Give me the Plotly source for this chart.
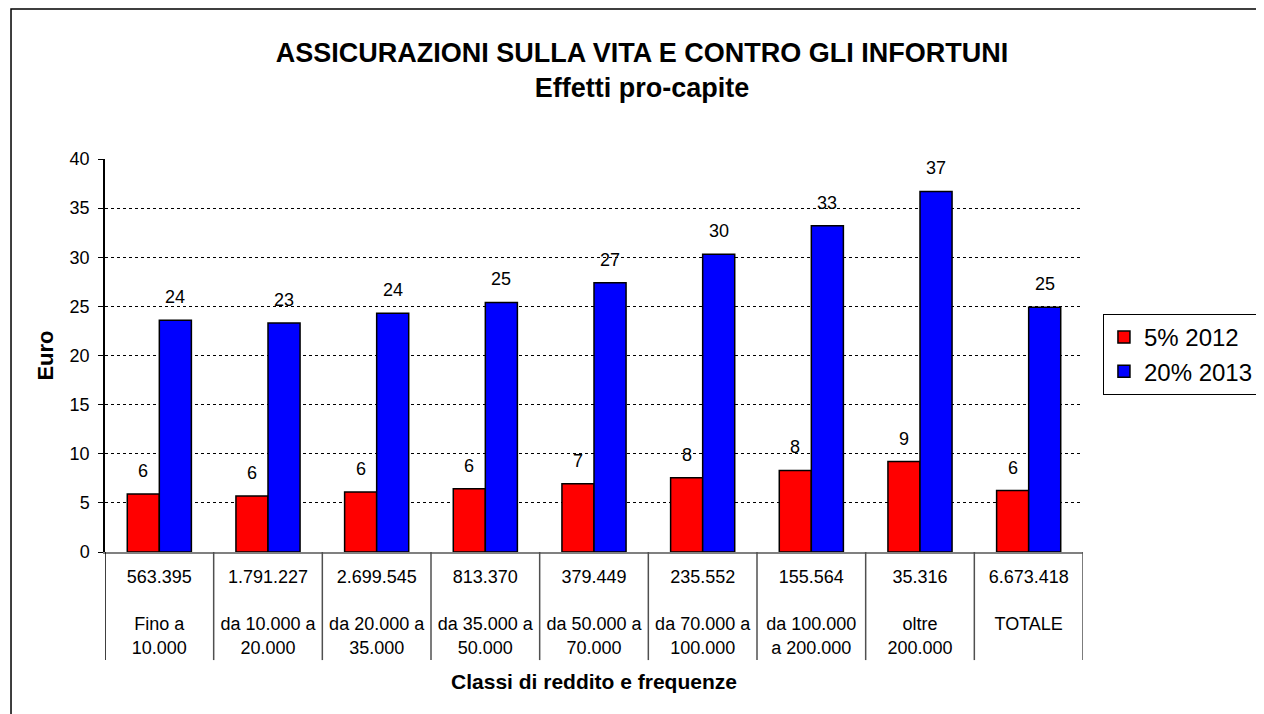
import plotly.graph_objects as go

# ---- data ----
classi = ["Fino a<br>10.000", "da 10.000 a<br>20.000", "da 20.000 a<br>35.000",
          "da 35.000 a<br>50.000", "da 50.000 a<br>70.000", "da 70.000 a<br>100.000",
          "da 100.000<br>a 200.000", "oltre<br>200.000", "TOTALE<br> "]
frequenze = ["563.395", "1.791.227", "2.699.545", "813.370", "379.449",
             "235.552", "155.564", "35.316", "6.673.418"]
val_2012 = [5.9, 5.7, 6.1, 6.45, 6.95, 7.55, 8.3, 9.2, 6.25]
val_2013 = [23.6, 23.3, 24.3, 25.4, 27.4, 30.3, 33.2, 36.7, 24.9]
serie = ["5% 2012", "20% 2013"]
colori = ["#FF0000", "#0000FF"]

BARGAP = 0.41
FONT = "Liberation Sans, Arial, sans-serif"

fig = go.Figure()
for nome, vals, col in zip(serie, [val_2012, val_2013], colori):
    fig.add_trace(go.Bar(
        x=classi, y=vals, name=nome,
        marker=dict(color=col, line=dict(color="black", width=1.5)),
        hoverinfo="skip",
    ))

# value labels above bars
half = (1 - BARGAP) / 4
annotations = []
for k, vals in enumerate([val_2012, val_2013]):
    off = -half if k == 0 else half
    for i, v in enumerate(vals):
        annotations.append(dict(
            x=i + off, y=v, xref="x", yref="y", text=f"{v:.0f}",
            showarrow=False, yanchor="middle", yshift=23,
            font=dict(size=18, color="black", family=FONT)))

# category table dividers
shapes = []
for i in range(len(classi) + 1):
    shapes.append(dict(type="line", xref="x", yref="paper",
                       x0=i - 0.5, x1=i - 0.5, y0=0, y1=-0.275,
                       line=dict(color="black" if i == 0 else "#505050", width=1.5)))
# outer chart border
shapes.append(dict(type="rect", xref="paper", yref="paper",
                   x0=-0.0961, x1=1.181, y0=-0.45, y1=1.3817,
                   line=dict(color="black", width=1.5), layer="below"))

fig.update_layout(
    width=1256, height=706,
    margin=dict(l=97, r=181, t=151, b=162, autoexpand=False),
    paper_bgcolor="white", plot_bgcolor="white",
    font=dict(family=FONT, color="black", size=18),
    barmode="group", bargap=BARGAP, bargroupgap=0,
    title=dict(text="<b>ASSICURAZIONI SULLA VITA E CONTRO GLI INFORTUNI<br>Effetti pro-capite</b>",
               x=0.5048, xanchor="center", xref="container",
               y=0.9235, yanchor="middle", yref="container",
               font=dict(size=27, family=FONT, color="black")),
    legend=dict(x=1.0204, y=0.6056, xanchor="left", yanchor="top",
                bordercolor="black", borderwidth=1, bgcolor="white",
                font=dict(size=24, family=FONT, color="black")),
    showlegend=True,
    annotations=annotations,
    shapes=shapes,
)

fig.update_xaxes(
    tickvals=classi,
    ticktext=[f"{f}<br><br>{c}" for f, c in zip(frequenze, classi)],
    tickfont=dict(size=18, family=FONT),
    ticks="", ticklabelstandoff=8,
    showline=True, linecolor="#808080", linewidth=1.5,
    showgrid=False, zeroline=False,
    title=dict(text="<b>Classi di reddito e frequenze</b>", standoff=18,
               font=dict(size=21, family=FONT)),
    range=[-0.5, len(classi) - 0.5],
)
fig.update_yaxes(
    range=[0, 40], dtick=5, tick0=0,
    ticks="outside", ticklen=5, tickcolor="black", ticklabelstandoff=5,
    tickfont=dict(size=18, family=FONT),
    showline=True, linecolor="black", linewidth=1.5,
    showgrid=True, gridcolor="black", gridwidth=1, griddash="dot",
    zeroline=False,
    title=dict(text="<b>Euro</b>", standoff=10, font=dict(size=22, family=FONT)),
)

fig.write_html("out.html")
